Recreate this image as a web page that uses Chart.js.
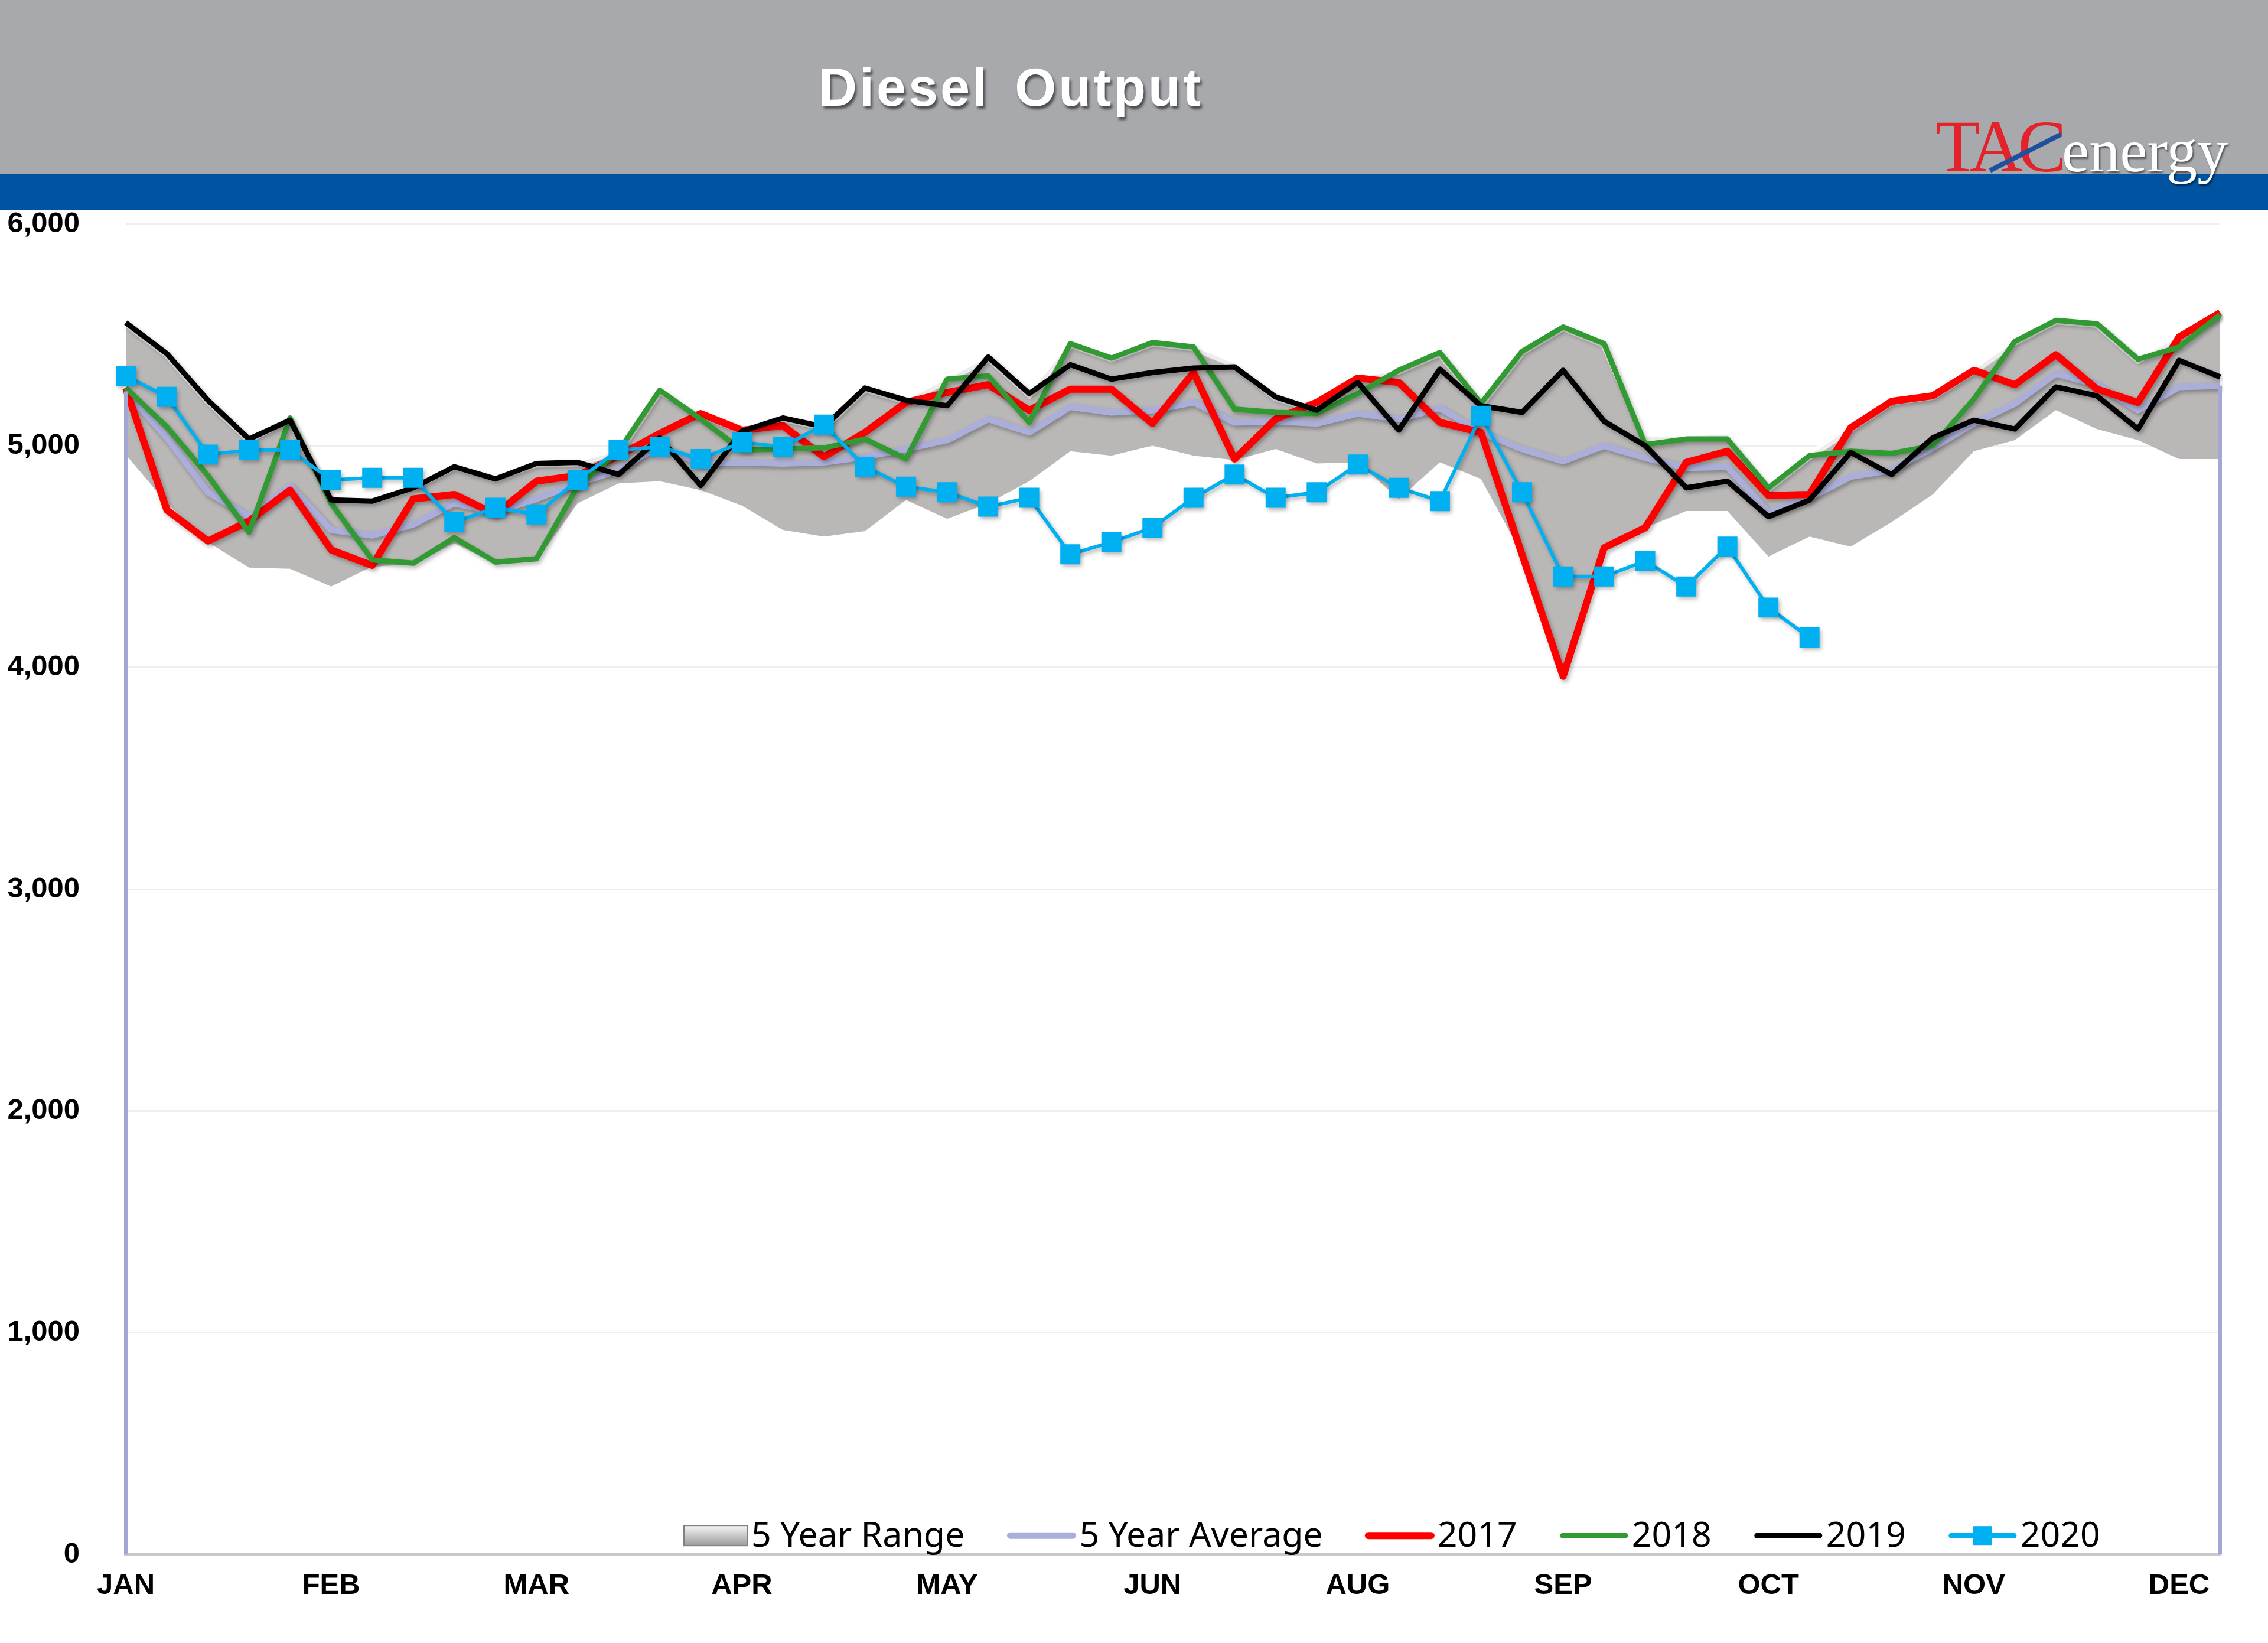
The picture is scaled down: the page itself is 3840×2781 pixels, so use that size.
<!DOCTYPE html>
<html>
<head>
<meta charset="utf-8">
<title>Diesel Output</title>
<script src="https://cdn.jsdelivr.net/npm/chart.js@4.4.1/dist/chart.umd.min.js"></script>
<style>
    html, body { margin: 0; padding: 0; background: #fff; }
    #page { position: relative; width: 3840px; height: 2781px; overflow: hidden; background: #fff; }
    #header { position: absolute; left: 0; top: 0; width: 3840px; height: 294px; background: #a7a9ac; }
    #band { position: absolute; left: 0; top: 294px; width: 3840px; height: 61px; background: #0053a1; }
    #title {
        position: absolute; left: 1386px; top: 103px;
        font: bold 90px "Liberation Sans", Arial, sans-serif; line-height: 90px;
        color: #fff; letter-spacing: 4px; word-spacing: 14px; white-space: nowrap;
        text-shadow: 3px 5px 4px rgba(0, 0, 0, 0.55);
    }
    #logo {
        position: absolute; left: 3277px; top: 190px; white-space: nowrap;
        font-family: "Liberation Serif", "Times New Roman", serif; font-size: 124px; line-height: 118px;
    }
    #logo .tac { color: #e3232b; letter-spacing: -8px; }
    #logo .energy { color: #fff; font-size: 104px; text-shadow: 2px 3px 3px rgba(0, 0, 0, 0.5); }
    #slash {
        position: absolute; left: 3362px; top: 254px; width: 135px; height: 8px;
        background: #1f4f9f; transform: rotate(-27deg);
    }
    #chart { position: absolute; left: 0; top: 0; }
</style>
</head>
<body>
<div id="page">
    <div id="header"></div>
    <div id="band"></div>
    <div id="title">Diesel Output</div>
    <div id="logo"><span class="tac">TAC</span><span class="energy">energy</span></div>
    <div id="slash"></div>
    <canvas id="chart" width="3840" height="2781"></canvas>
</div>

<script>
// ============================================================================
// DADOS (semanas 1..52)
// ============================================================================
const weekLabels = Array.from({ length: 52 }, (_, i) => 'W' + (i + 1));
const monthTicks = ['JAN', 'FEB', 'MAR', 'APR', 'MAY', 'JUN', 'AUG', 'SEP', 'OCT', 'NOV', 'DEC'];

const rangeHigh = [
    5555, 5415, 5205, 5030, 5125, 4770, 4760, 4815, 4910, 4860,
    4920, 4925, 4975, 5250, 5145, 5070, 5125, 5085, 5260, 5205,
    5300, 5400, 5235, 5460, 5395, 5465, 5445, 5370, 5220, 5160,
    5305, 5340, 5420, 5190, 5425, 5535, 5460, 5040, 5040, 5050,
    4810, 4955, 5080, 5200, 5225, 5340, 5470, 5565, 5550, 5390,
    5490, 5600
];
const rangeLow = [
    4960, 4740, 4565, 4450, 4445, 4365, 4455, 4465, 4560, 4470,
    4480, 4740, 4830, 4840, 4800, 4730, 4620, 4590, 4615, 4755,
    4670, 4740, 4840, 4975, 4955, 5000, 4955, 4935, 4985, 4920,
    4925, 4760, 4925, 4850, 4510, 3960, 4540, 4630, 4705, 4705,
    4500, 4590, 4545, 4655, 4780, 4975, 5025, 5160, 5075, 5025,
    4940, 4940
];
const fiveYearAvg = [
    5245, 5035, 4790, 4680, 4820, 4620, 4595, 4645, 4740, 4700,
    4760, 4830, 4890, 5000, 4920, 4925, 4920, 4925, 4950, 4985,
    5025, 5120, 5060, 5175, 5150, 5160, 5195, 5105, 5110, 5100,
    5145, 5120, 5170, 5060, 4985, 4930, 5000, 4945, 4900, 4905,
    4700, 4765, 4860, 4890, 4990, 5100, 5190, 5325, 5275, 5160,
    5265, 5270
];
const y2017 = [
    5260, 4710, 4570, 4660, 4800, 4530, 4460, 4760, 4780, 4690,
    4840, 4865, 4955, 5055, 5145, 5070, 5090, 4950, 5060, 5195,
    5240, 5275, 5160, 5255, 5255, 5100, 5330, 4940, 5120, 5195,
    5305, 5285, 5105, 5060, 4510, 3960, 4540, 4630, 4925, 4975,
    4775, 4780, 5080, 5200, 5225, 5340, 5275, 5410, 5255, 5195,
    5490, 5600
];
const y2018 = [
    5260, 5085, 4865, 4610, 5125, 4740, 4485, 4470, 4585, 4475,
    4490, 4815, 4975, 5250, 5120, 4980, 4985, 4990, 5030, 4940,
    5300, 5315, 5105, 5460, 5395, 5465, 5445, 5165, 5150, 5145,
    5235, 5340, 5420, 5190, 5425, 5535, 5460, 5005, 5030, 5030,
    4810, 4955, 4975, 4965, 5000, 5210, 5470, 5565, 5550, 5390,
    5445, 5590
];
const y2019 = [
    5555, 5415, 5205, 5030, 5115, 4755, 4750, 4810, 4905, 4850,
    4920, 4925, 4870, 5035, 4820, 5065, 5125, 5085, 5260, 5205,
    5180, 5400, 5235, 5365, 5300, 5330, 5350, 5355, 5220, 5160,
    5285, 5070, 5345, 5180, 5150, 5340, 5110, 5000, 4810, 4840,
    4680, 4755, 4970, 4870, 5035, 5115, 5075, 5265, 5225, 5075,
    5385, 5310
];
const y2020 = [
    5315, 5220, 4960, 4980, 4980, 4845, 4855, 4855, 4655, 4720,
    4690, 4845, 4980, 4995, 4940, 5015, 4995, 5095, 4905, 4815,
    4790, 4725, 4765, 4510, 4565, 4630, 4765, 4870, 4765, 4790,
    4915, 4810, 4750, 5135, 4790, 4410, 4410, 4480, 4365, 4545,
    4270, 4135
];


// ============================================================================
// PLUGINS
// ============================================================================

// sombra leve nas linhas (estilo Excel)
const sombraLinhas = {
    id: 'sombraLinhas',
    beforeDatasetDraw(chart, args) {
        if (args.index < 2) return;
        const ctx = chart.ctx;
        ctx.save();
        ctx.shadowColor = 'rgba(0, 0, 0, 0.3)';
        ctx.shadowBlur = 7;
        ctx.shadowOffsetX = 3;
        ctx.shadowOffsetY = 4;
    },
    afterDatasetDraw(chart, args) {
        if (args.index < 2) return;
        chart.ctx.restore();
    }
};

// bordas verticais da media de 5 anos, no inicio e no fim
const bordasMedia = {
    id: 'bordasMedia',
    afterDatasetsDraw(chart) {
        const { ctx, scales: { x, y } } = chart;
        const ultimo = fiveYearAvg.length - 1;
        ctx.save();
        ctx.strokeStyle = '#a4a7d3';
        ctx.lineWidth = 6;
        [0, ultimo].forEach(i => {
            const px = x.getPixelForValue(i);
            ctx.beginPath();
            ctx.moveTo(px, y.getPixelForValue(fiveYearAvg[i]));
            ctx.lineTo(px, y.getPixelForValue(0));
            ctx.stroke();
        });
        ctx.restore();
    }
};

// legenda dentro da area do grafico, no rodape
const legendaInterna = {
    id: 'legendaInterna',
    afterDraw(chart) {
        const { ctx, chartArea } = chart;
        const cy = chartArea.bottom - 32;
        let x = chartArea.left + 945;

        ctx.save();
        ctx.font = '59px "Noto Sans", sans-serif';
        ctx.textBaseline = 'middle';

        [0, 2, 3, 4, 5, 6].forEach(i => {
            const ds = chart.data.datasets[i];
            const w = i === 0 ? 108 : 116;

            if (i === 0) {
                const g = ctx.createLinearGradient(0, cy - 17, 0, cy + 17);
                g.addColorStop(0, '#f6f6f6');
                g.addColorStop(1, '#9c9a9a');
                ctx.fillStyle = g;
                ctx.fillRect(x, cy - 17, w, 34);
                ctx.strokeStyle = '#808080';
                ctx.lineWidth = 2;
                ctx.strokeRect(x, cy - 17, w, 34);
            } else {
                ctx.strokeStyle = ds.borderColor;
                ctx.lineWidth = Math.max(ds.borderWidth, 9);
                ctx.lineCap = 'round';
                ctx.beginPath();
                ctx.moveTo(x + 5, cy);
                ctx.lineTo(x + w - 5, cy);
                ctx.stroke();
                if (ds.pointStyle === 'rect') {
                    ctx.fillStyle = ds.pointBackgroundColor;
                    ctx.fillRect(x + w / 2 - 16, cy - 16, 32, 32);
                }
            }

            ctx.fillStyle = '#000';
            ctx.fillText(ds.label, x + w + 6, cy + 2);
            x += w + 6 + ctx.measureText(ds.label).width + 72;
        });
        ctx.restore();
    }
};


// ============================================================================
// GRAFICO
// ============================================================================
const fonteEixo = { family: '"Liberation Sans", Arial, sans-serif', weight: 'bold', size: 49 };

const linha = (label, data, cor, largura, ordem) => ({
    label, data,
    borderColor: cor,
    backgroundColor: cor,
    borderWidth: largura,
    borderJoinStyle: 'round',
    pointRadius: 0,
    tension: 0,
    fill: false,
    order: ordem
});

const serie2020 = linha('2020', y2020, '#00b0f0', 6, 0);
serie2020.pointStyle = 'rect';
serie2020.pointRadius = 24;
serie2020.pointBackgroundColor = '#00b0f0';
serie2020.pointBorderWidth = 0;

new Chart(document.getElementById('chart'), {
    type: 'line',
    data: {
        labels: weekLabels,
        datasets: [
            {
                label: '5 Year Range',
                data: rangeHigh,
                fill: '+1',
                backgroundColor: '#bab7b7',
                borderColor: 'rgba(255, 255, 255, 0.75)',
                borderWidth: 14,
                pointRadius: 0,
                tension: 0,
                order: 6
            },
            {
                label: 'range-low',
                data: rangeLow,
                fill: false,
                borderWidth: 0,
                borderColor: 'rgba(0,0,0,0)',
                pointRadius: 0,
                tension: 0,
                order: 7
            },
            linha('5 Year Average', fiveYearAvg, '#abaed9', 11, 5),
            linha('2017', y2017, '#ff0000', 12, 4),
            linha('2018', y2018, '#329a32', 9, 3),
            linha('2019', y2019, '#000000', 9, 2),
            serie2020
        ]
    },
    options: {
        responsive: false,
        animation: false,
        devicePixelRatio: 1,
        layout: { padding: { top: 379, left: 10, right: 81, bottom: 43 } },
        plugins: {
            legend: { display: false },
            tooltip: { enabled: false }
        },
        scales: {
            x: {
                grid: { display: false, drawTicks: false },
                border: { color: '#c9c9c9', width: 6 },
                ticks: {
                    autoSkip: false,
                    maxRotation: 0,
                    padding: 24,
                    color: '#000',
                    font: fonteEixo,
                    callback: (v, i) => (i % 5 === 0 ? monthTicks[i / 5] : '')
                }
            },
            y: {
                min: 0,
                max: 6000,
                afterFit: s => { s.width = 203; },
                grid: { color: '#eeeeee', lineWidth: 3, drawTicks: false },
                border: { display: false },
                ticks: {
                    stepSize: 1000,
                    padding: 78,
                    color: '#000',
                    font: fonteEixo,
                    callback: v => v.toLocaleString('en-US')
                }
            }
        }
    },
    plugins: [sombraLinhas, bordasMedia, legendaInterna]
});
</script>
</body>
</html>
